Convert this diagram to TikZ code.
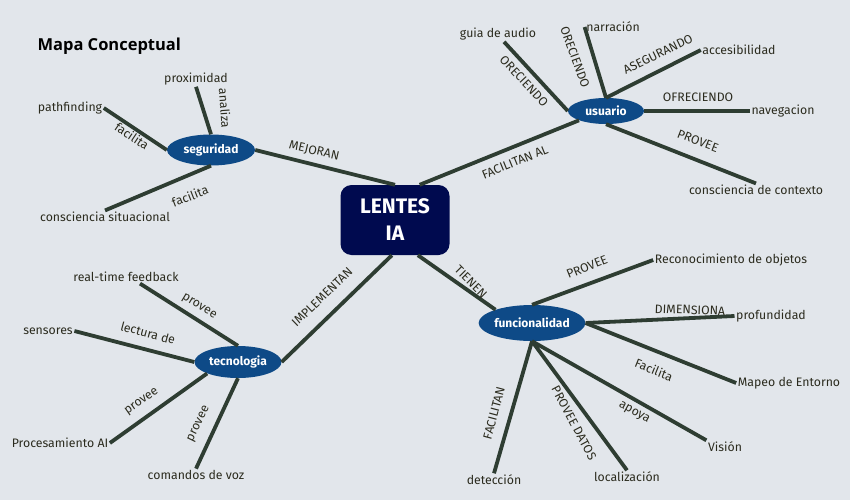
\documentclass[tikz,border=0pt]{standalone}
\usepackage{fontspec}
\setmainfont{Fira Sans}
\newfontfamily\titlefont{Open Sans}
\usetikzlibrary{shapes.geometric}

\definecolor{bgcol}{HTML}{E2E6EB}
\definecolor{linecol}{HTML}{2E3D32}
\definecolor{navy}{HTML}{000A4F}
\definecolor{ovalblue}{HTML}{0E4A87}
\definecolor{txtcol}{HTML}{2B2B1E}

\begin{document}
\begin{tikzpicture}[x=1pt,y=-1pt,
  center node/.style={rectangle,rounded corners=11pt,fill=navy,text=white,minimum width=109pt,minimum height=70pt,align=center,font=\fontsize{21}{27}\selectfont\bfseries},
  topic node/.style={ellipse,fill=ovalblue,text=white,inner sep=0pt,font=\fontsize{12}{14}\selectfont\bfseries},
  leaf node/.style={text=txtcol,inner sep=1.5pt,font=\fontsize{12.3}{14}\selectfont},
  link label/.style={text=txtcol,inner sep=0pt,font=\fontsize{12.3}{14}\selectfont}]

  \fill[bgcol] (0,0) rectangle (850,500);
  \useasboundingbox (0,0) rectangle (850,500);

  \node[anchor=west,font=\titlefont\fontsize{16.5}{19}\selectfont\bfseries] (title) at (34,46) {Mapa Conceptual};

  \node[center node] (lentes) at (395,220) {LENTES\\IA};

  \node[topic node,minimum width=88pt,minimum height=31pt] (seg) at (211,150) {seguridad};
  \node[topic node,minimum width=76pt,minimum height=26pt] (usu) at (606,111) {usuario};
  \node[topic node,minimum width=87pt,minimum height=32pt] (tec) at (238,362) {tecnologia};
  \node[topic node,minimum width=99pt,minimum height=36pt] (fun) at (532,323) {funcionalidad};

  % seguridad
  \node[leaf node] (prox) at (196,79) {proximidad};
  \node[leaf node] (pathf) at (70,108) {pathfinding};
  \node[leaf node] (consit) at (105,217) {consciencia situacional};

  % usuario
  \node[leaf node] (guia) at (498,34) {guia de audio};
  \node[leaf node] (narr) at (613,27) {narración};
  \node[leaf node] (acces) at (739,50) {accesibilidad};
  \node[leaf node] (naveg) at (783,111) {navegacion};
  \node[leaf node] (conctx) at (756,190) {consciencia de contexto};

  % tecnologia
  \node[leaf node] (rtf) at (126,277) {real-time feedback};
  \node[leaf node] (sens) at (48,331) {sensores};
  \node[leaf node] (proai) at (60,443) {Procesamiento AI};
  \node[leaf node] (voz) at (196,475) {comandos de voz};

  % funcionalidad
  \node[leaf node] (recob) at (731,260) {Reconocimiento de objetos};
  \node[leaf node] (prof) at (771,316) {profundidad};
  \node[leaf node] (mapeo) at (789,383) {Mapeo de Entorno};
  \node[leaf node] (vis) at (725,447) {Visión};
  \node[leaf node] (loc) at (627,477) {localización};
  \node[leaf node] (det) at (494,480) {detección};

  \path[draw=linecol,line width=3.8pt]
    (seg.east) edge (lentes.north)
    (lentes.55) edge (usu.south west)
    (lentes.265) edge (tec.east)
    (lentes.303) edge (fun.160)

    (seg.north) edge (prox.south)
    (seg.west) edge (pathf.east)
    (seg.south) edge (consit.north)

    (usu.west) edge ([xshift=6pt]guia.south)
    (usu.north) edge (narr.west)
    (usu.north) edge (acces.west)
    (usu.east) edge (naveg.west)
    (usu.south) edge (conctx.north)

    (tec.north) edge ([xshift=14pt]rtf.south)
    (tec.west) edge (sens.east)
    (tec.south west) edge (proai.east)
    (tec.south) edge (voz.north)

    (fun.north) edge (recob.west)
    (fun.east) edge (prof.west)
    (fun.east) edge (mapeo.west)
    (fun.south) edge (vis.north west)
    (fun.south) edge (loc.north)
    (fun.south) edge (det.north)
    ;

  % link labels
  \node[link label,rotate=-13] (l-mej) at (314,151) {MEJORAN};
  \node[link label,rotate=22] (l-fac) at (515,162) {FACILITAN AL};
  \node[link label,rotate=44] (l-imp) at (322,297) {IMPLEMENTAN};
  \node[link label,rotate=-45] (l-tie) at (471,282) {TIENEN};

  \node[link label,rotate=-86] (l-ana) at (225,108) {analiza};
  \node[link label,rotate=-34] (l-fa1) at (132,136) {facilita};
  \node[link label,rotate=21] (l-fa2) at (190,196) {facilita};

  \node[link label,rotate=-47] (l-or1) at (524,81) {ORECIENDO};
  \node[link label,rotate=-70] (l-or2) at (575,57) {ORECIENDO};
  \node[link label,rotate=26] (l-ase) at (658,54) {ASEGURANDO};
  \node[link label] (l-ofr) at (698,97) {OFRECIENDO};
  \node[link label,rotate=-21] (l-pr1) at (698,141) {PROVEE};

  \node[link label,rotate=-31] (l-pv1) at (199,307) {provee};
  \node[link label,rotate=-15] (l-lec) at (148,333) {lectura de};
  \node[link label,rotate=35] (l-pv2) at (142,402) {provee};
  \node[link label,rotate=64] (l-pv3) at (199,424) {provee};

  \node[link label,rotate=22] (l-pr2) at (587,267) {PROVEE};
  \node[link label,rotate=-2] (l-dim) at (690,310) {DIMENSIONA};
  \node[link label,rotate=-22] (l-fa3) at (654,370) {Facilita};
  \node[link label,rotate=-29] (l-apo) at (634,413) {apoya};
  \node[link label,rotate=-62] (l-prd) at (574,423) {PROVEE DATOS};
  \node[link label,rotate=75] (l-fa4) at (494,413) {FACILITAN};
\end{tikzpicture}
\end{document}
